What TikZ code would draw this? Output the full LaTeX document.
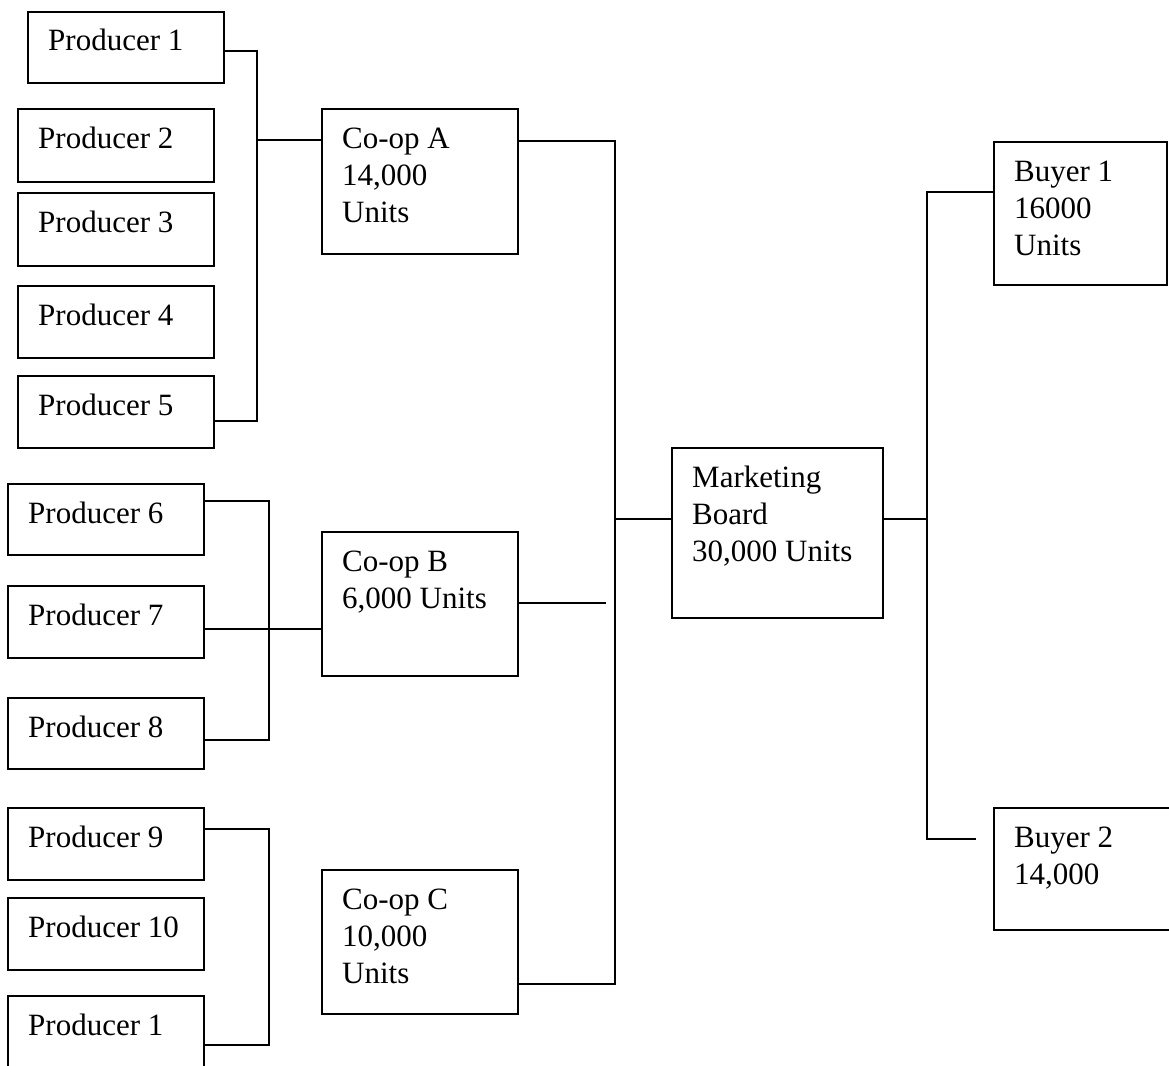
\documentclass[tikz,border=0pt]{standalone}
\usepackage{fontspec}
\setmainfont{Liberation Serif}
\usetikzlibrary{calc}

\tikzset{
  unitbox/.style={draw, line width=2pt, inner sep=0pt, anchor=north west},
  boxtext/.style={inner sep=0pt, anchor=base west, font=\fontsize{31}{37}\selectfont},
  link/.style={line width=1.8pt, line cap=rect}
}

% \mkbox{name}{x}{y}{width}{height}{lines}: a box with its top-left corner at (x,y)
% and its text set flush left near the top
\newcommand{\mkbox}[6]{%
  \node[unitbox, minimum width=#4pt, minimum height=#5pt] (#1) at (#2,#3) {};
  \node[boxtext] (#1-t) at ($(#1.north west)+(21,40)$)
    {\begin{tabular}[t]{@{}l@{}}#6\end{tabular}};
}

\begin{document}
\begin{tikzpicture}[x=1pt, y=-1pt]
  \clip (0,0) rectangle (1169,1065);

  % producers
  \mkbox{p1}{27}{11}{196}{71}{Producer 1}
  \mkbox{p2}{17}{108}{196}{73}{Producer 2}
  \mkbox{p3}{17}{192}{196}{73}{Producer 3}
  \mkbox{p4}{17}{285}{196}{72}{Producer 4}
  \mkbox{p5}{17}{375}{196}{72}{Producer 5}
  \mkbox{p6}{7}{483}{196}{71}{Producer 6}
  \mkbox{p7}{7}{585}{196}{72}{Producer 7}
  \mkbox{p8}{7}{697}{196}{71}{Producer 8}
  \mkbox{p9}{7}{807}{196}{72}{Producer 9}
  \mkbox{p10}{7}{897}{196}{72}{Producer 10}
  \mkbox{p11}{7}{995}{196}{72}{Producer 1}

  % co-operatives
  \mkbox{ca}{321}{108}{196}{145}{Co-op A\\14,000\\Units}
  \mkbox{cb}{321}{531}{196}{144}{Co-op B\\6,000 Units}
  \mkbox{cc}{321}{869}{196}{144}{Co-op C\\10,000\\Units}

  % marketing board and buyers
  \mkbox{mb}{671}{447}{211}{170}{Marketing\\Board\\30,000 Units}
  \mkbox{b1}{993}{141}{173}{143}{Buyer 1\\16000\\Units}
  \mkbox{b2}{993}{807}{180}{122}{Buyer 2\\14,000}

  % open line ends
  \coordinate (cbend) at (605,603);
  \coordinate (b2end) at (975,839);

  % producers 1-5 into co-op A
  \draw[link] ($(p1.north east)+(0,40)$) -| (257,421) -- ($(p5.north east)+(0,46)$);
  \draw[link] (257,140) -- ($(ca.north west)+(0,32)$);

  % producers 6-8 into co-op B
  \draw[link] ($(p6.north east)+(0,18)$) -| (269,740) -- ($(p8.north east)+(0,43)$);
  \draw[link] ($(p7.north east)+(0,44)$) -- ($(cb.north west)+(0,98)$);

  % producers 9-11
  \draw[link] ($(p9.north east)+(0,22)$) -| (269,1045) -- ($(p11.north east)+(0,50)$);

  % co-operatives into the marketing board
  \draw[link] ($(ca.north east)+(0,33)$) -| (615,984) -- ($(cc.north east)+(0,115)$);
  \draw[link] (615,519) -- ($(mb.north west)+(0,72)$);
  \draw[link] ($(cb.north east)+(0,72)$) -- (cbend);

  % marketing board to buyers
  \draw[link] ($(mb.north east)+(0,72)$) -- (927,519);
  \draw[link] ($(b1.north west)+(0,51)$) -| (927,839) -- (b2end);
\end{tikzpicture}
\end{document}
